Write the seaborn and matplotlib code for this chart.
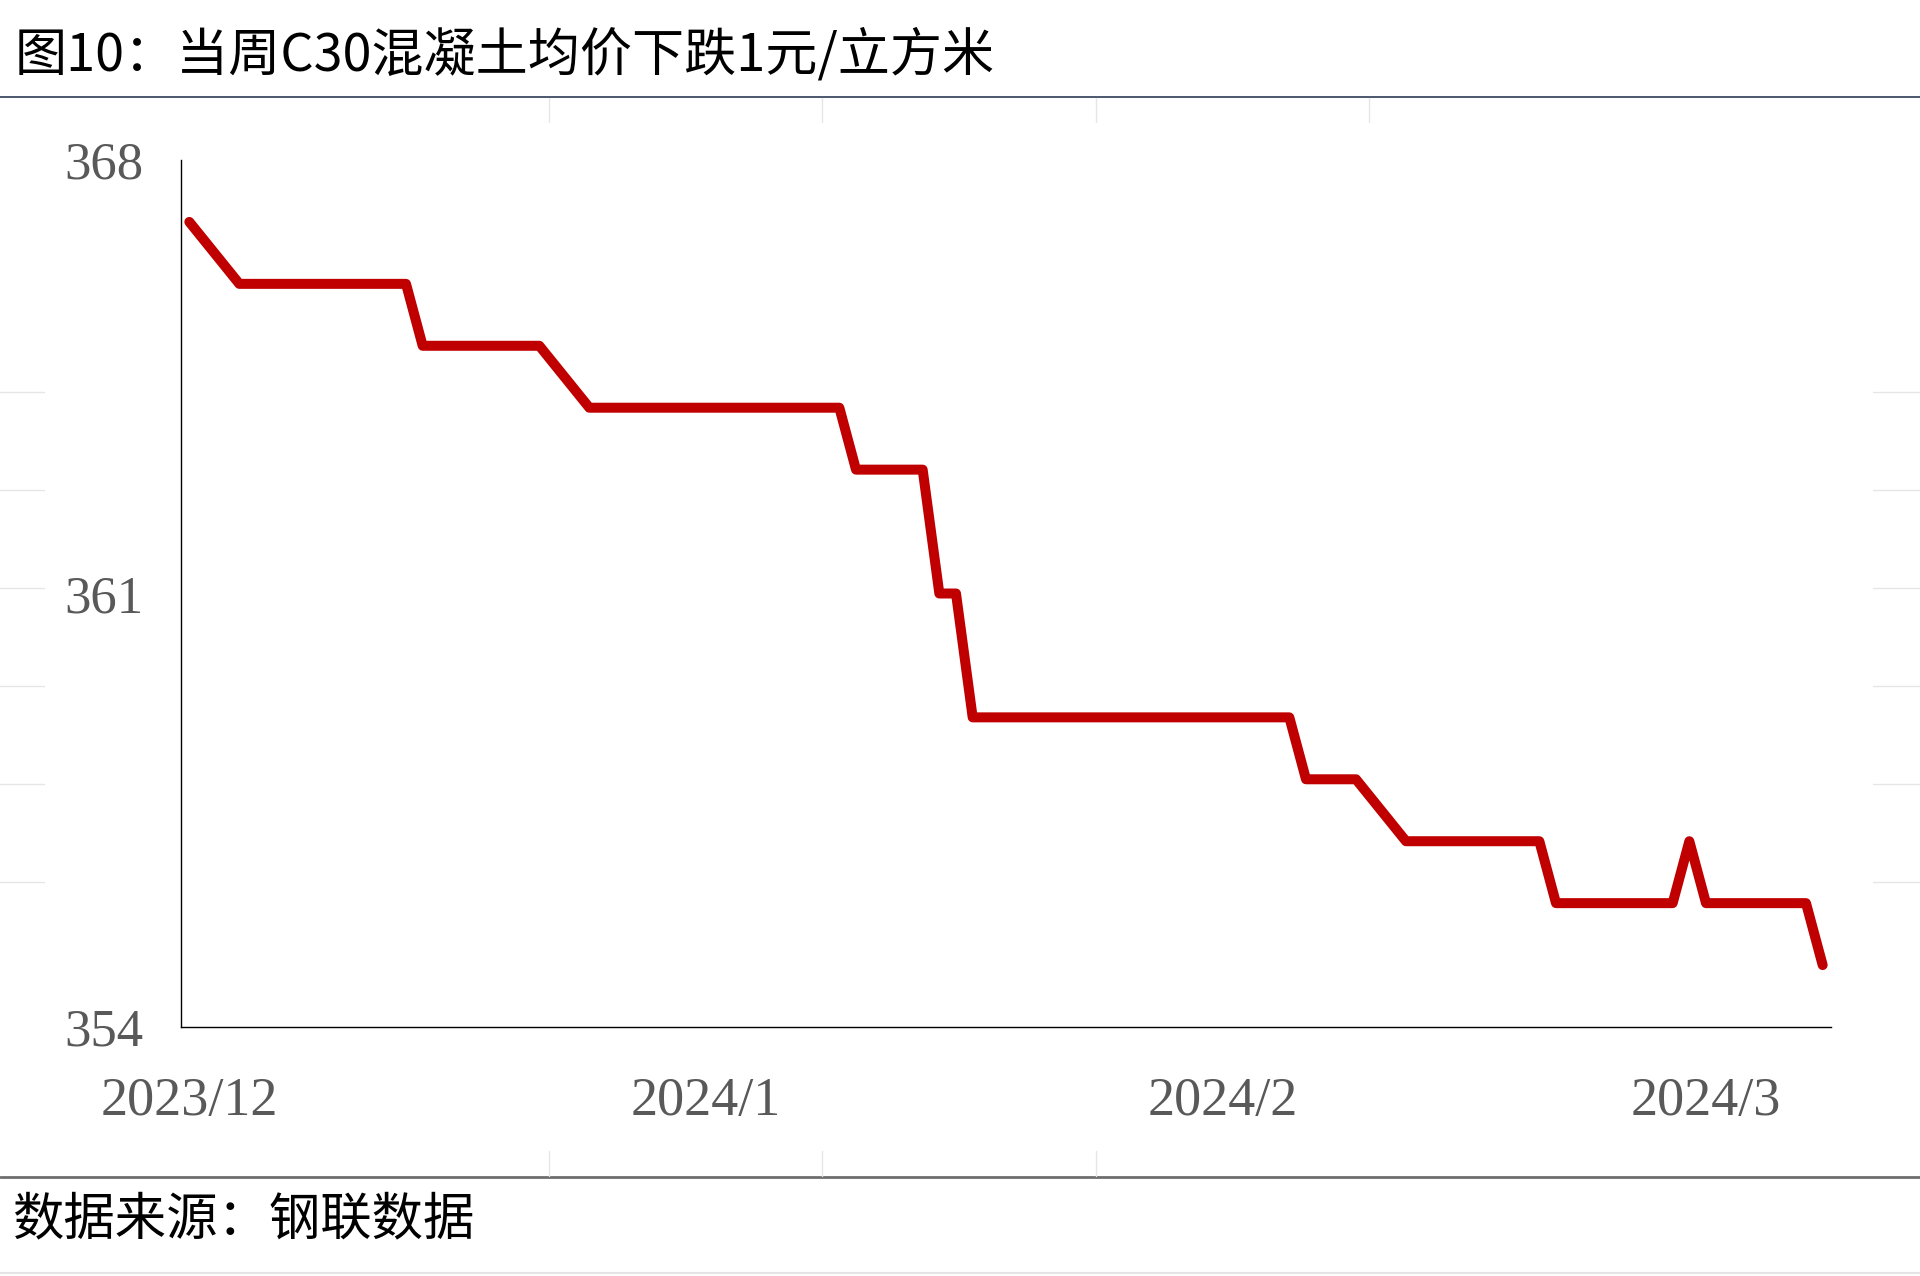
import numpy as np
import pandas as pd
import matplotlib
matplotlib.use("Agg")
import matplotlib.pyplot as plt
from matplotlib.lines import Line2D
from matplotlib.transforms import ScaledTranslation
import seaborn as sns

# ---------------- data ----------------
dates = [
    "2023-12-01",
    "2023-12-04", "2023-12-05", "2023-12-06", "2023-12-07", "2023-12-08",
    "2023-12-11", "2023-12-12", "2023-12-13", "2023-12-14", "2023-12-15",
    "2023-12-18", "2023-12-19", "2023-12-20", "2023-12-21", "2023-12-22",
    "2023-12-25", "2023-12-26", "2023-12-27", "2023-12-28", "2023-12-29",
    "2024-01-01", "2024-01-02", "2024-01-03", "2024-01-04", "2024-01-05",
    "2024-01-08", "2024-01-09", "2024-01-10", "2024-01-11", "2024-01-12", "2024-01-14",
    "2024-01-15", "2024-01-16", "2024-01-17", "2024-01-18", "2024-01-19",
    "2024-01-22", "2024-01-23", "2024-01-24", "2024-01-25", "2024-01-26",
    "2024-01-29", "2024-01-30", "2024-01-31", "2024-02-01", "2024-02-02",
    "2024-02-05", "2024-02-06", "2024-02-07", "2024-02-08", "2024-02-09",
    "2024-02-12", "2024-02-13", "2024-02-14", "2024-02-15", "2024-02-16",
    "2024-02-19", "2024-02-20", "2024-02-21", "2024-02-22", "2024-02-23",
    "2024-02-26", "2024-02-27", "2024-02-28", "2024-02-29", "2024-03-01",
    "2024-03-04", "2024-03-05", "2024-03-06", "2024-03-07", "2024-03-08",
]
prices = [
    367,
    366, 366, 366, 366, 366,
    366, 366, 366, 366, 365,
    365, 365, 365, 365, 365,
    364, 364, 364, 364, 364,
    364, 364, 364, 364, 364,
    364, 364, 363, 363, 363, 363,
    361, 361, 359, 359, 359,
    359, 359, 359, 359, 359,
    359, 359, 359, 359, 359,
    359, 358, 358, 358, 358,
    357, 357, 357, 357, 357,
    357, 357, 356, 356, 356,
    356, 356, 356, 357, 356,
    356, 356, 356, 356, 355,
]
x_tick_dates = ["2023-12-01", "2024-01-01", "2024-02-01", "2024-03-01"]
x_tick_labels = ["2023/12", "2024/1", "2024/2", "2024/3"]
y_ticks = [354, 361, 368]
title_text = "图10：当周C30混凝土均价下跌1元/立方米"
source_text = "数据来源：钢联数据"

# ---------------- style ----------------
sns.set_theme(style="white")
plt.rcParams["font.family"] = ["Liberation Serif", "DejaVu Serif"]
cjk = ["Noto Sans CJK SC", "DejaVu Sans"]

W, H, DPI = 1920, 1276, 100
fig = plt.figure(figsize=(W / DPI, H / DPI), dpi=DPI)
fig.patch.set_facecolor("white")

# axes placement (pixel based)
left_px, right_px, top_px, bottom_px = 181, 1831, 160, 1027
ax = fig.add_axes([left_px / W, 1 - bottom_px / H,
                   (right_px - left_px) / W, (bottom_px - top_px) / H])

df = pd.DataFrame({
    "date": pd.to_datetime(dates) + pd.Timedelta(hours=12),
    "price": prices,
})
sns.lineplot(data=df, x="date", y="price", ax=ax, color="#C00000",
             linewidth=7.2, solid_capstyle="round", solid_joinstyle="round")

ax.set_xlim(pd.Timestamp("2023-12-01"), pd.Timestamp("2024-03-09"))
ax.set_ylim(354, 368)
ax.set_yticks(y_ticks)
ax.set_yticklabels([str(v) for v in y_ticks])
ax.set_xticks(pd.to_datetime(x_tick_dates))
ax.set_xticklabels(x_tick_labels)
ax.set_xlabel("")
ax.set_ylabel("")
ax.grid(False)

for s in ["top", "right"]:
    ax.spines[s].set_visible(False)
for s in ["left", "bottom"]:
    ax.spines[s].set_color("black")
    ax.spines[s].set_linewidth(1.0)

ax.tick_params(axis="both", direction="in", length=15, width=0.8,
               color="black", labelcolor="#595959")
ax.tick_params(axis="y", pad=27, labelsize=38)
ax.tick_params(axis="x", pad=36, labelsize=39)

off = ScaledTranslation(8 / DPI, 0, fig.dpi_scale_trans)
for lbl in ax.get_xticklabels():
    lbl.set_transform(lbl.get_transform() + off)

# ---------------- decorations ----------------
fig.text(15 / W, 1 - 56 / H, title_text, family=cjk, fontsize=37.5,
         color="black", ha="left", va="center")
fig.text(12 / W, 1 - 1220 / H, source_text, family=cjk, fontsize=37,
         color="black", ha="left", va="center")

def hline(y, x0, x1, color, lw):
    fig.add_artist(Line2D([x0 / W, x1 / W], [1 - y / H, 1 - y / H],
                          transform=fig.transFigure, color=color, lw=lw))

def vline(x, y0, y1, color, lw):
    fig.add_artist(Line2D([x / W, x / W], [1 - y0 / H, 1 - y1 / H],
                          transform=fig.transFigure, color=color, lw=lw))

hline(97, 0, W, "#2E3B55", 1.2)
hline(1177, 0, W, "#6E6E6E", 2.0)
hline(1273, 0, W, "#E4E4E4", 1.5)

faint = "#E6E6E6"
for y in [392, 490, 588, 686, 784, 882]:
    hline(y, 0, 44, faint, 1.0)
    hline(y, 1873, W, faint, 1.0)
for x in [549, 822, 1096, 1369]:
    vline(x, 98, 122, faint, 1.0)
for x in [549, 822, 1096]:
    vline(x, 1151, 1176, faint, 1.0)

fig.savefig("out.png", dpi=DPI, facecolor="white")
